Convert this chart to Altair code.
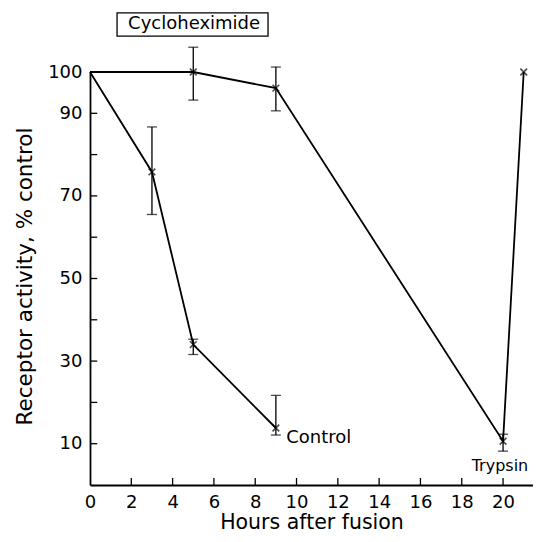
import altair as alt
import pandas as pd

# Control series
ctrl_x = [0, 3, 5, 9]
ctrl_y = [100, 75.8, 34, 13.8]
ctrl_lo = [None, 65.5, 31.6, 12.1]
ctrl_hi = [None, 86.7, 35.3, 21.7]

# Cycloheximide series
cyc_x = [0, 5, 9, 20, 21]
cyc_y = [100, 100, 96.1, 10.6, 100]
cyc_lo = [None, 93.2, 90.6, 8.2, None]
cyc_hi = [None, 106, 101.2, 12.3, None]

x_ticks = [2, 4, 6, 8, 10, 12, 14, 16, 18, 20]
y_ticks = [10, 20, 30, 40, 50, 60, 70, 80, 90, 100]

FONT = "DejaVu Sans"

rows = []
for i, (x, y, lo, hi) in enumerate(zip(ctrl_x, ctrl_y, ctrl_lo, ctrl_hi)):
    rows.append(dict(series="Control", order=i, x=x, y=y, lo=lo, hi=hi, marker=(i > 0)))
for i, (x, y, lo, hi) in enumerate(zip(cyc_x, cyc_y, cyc_lo, cyc_hi)):
    rows.append(dict(series="Cycloheximide", order=i, x=x, y=y, lo=lo, hi=hi, marker=(i > 0)))
df = pd.DataFrame(rows)
err = df.dropna(subset=["lo"])
pts = df[df["marker"]]

xs = alt.Scale(domain=[0, 21.45], nice=False, zero=False)
ys = alt.Scale(domain=[0, 100], nice=False)

base = alt.Chart(df)

lines = base.mark_line(color="black", strokeWidth=1.8).encode(
    x=alt.X("x:Q", scale=xs,
            axis=alt.Axis(title="Hours after fusion", values=[0] + x_ticks, format="d",
                          tickSize=0, labelPadding=8, labelFlush=False,
                          titleBaseline="alphabetic", titleY=43,
                          domainColor="black", domainWidth=1.8, grid=False,
                          labelFont=FONT, titleFont=FONT, labelFontSize=18,
                          titleFontSize=20.5, titleFontWeight="normal", labelColor="black",
                          titleColor="black")),
    y=alt.Y("y:Q", scale=ys,
            axis=alt.Axis(title="Receptor activity, % control", values=y_ticks,
                          labelExpr="(datum.value % 20 == 10 || datum.value == 100) ? datum.label : ''",
                          tickSize=0, labelPadding=8, labelFlush=False,
                          titleX=-65, titleY=204, titleBaseline="middle",
                          domainColor="black", domainWidth=1.8, grid=False,
                          labelFont=FONT, titleFont=FONT, labelFontSize=18,
                          titleFontSize=21.5, titleFontWeight="normal", labelColor="black",
                          titleColor="black")),
    detail="series:N",
    order="order:Q",
)

markers = alt.Chart(pts).mark_point(
    shape="M-1,-1L1,1M-1,1L1,-1", size=45, color="black", strokeWidth=1.6, filled=False
).encode(x=alt.X("x:Q", scale=xs), y=alt.Y("y:Q", scale=ys))

bars = alt.Chart(err).mark_rule(color="black", strokeWidth=1.3).encode(
    x=alt.X("x:Q", scale=xs), y=alt.Y("lo:Q", scale=ys), y2="hi:Q"
)
cap_lo = alt.Chart(err).mark_tick(color="black", orient="horizontal", size=10, thickness=1.3).encode(
    x=alt.X("x:Q", scale=xs), y=alt.Y("lo:Q", scale=ys)
)
cap_hi = alt.Chart(err).mark_tick(color="black", orient="horizontal", size=10, thickness=1.3).encode(
    x=alt.X("x:Q", scale=xs), y=alt.Y("hi:Q", scale=ys)
)

# inward axis ticks
ytk = alt.Chart(pd.DataFrame({"v": y_ticks})).mark_rule(color="black", strokeWidth=1.3).encode(
    y=alt.Y("v:Q", scale=ys), x=alt.datum(0, scale=xs), x2=alt.datum(0.35)
)
xtk = alt.Chart(pd.DataFrame({"v": x_ticks})).mark_rule(color="black", strokeWidth=1.3).encode(
    x=alt.X("v:Q", scale=xs), y=alt.datum(0, scale=ys), y2=alt.datum(1.7)
)

# annotations
box_df = pd.DataFrame({"x1": [1.31], "x2": [8.62], "y1": [108.7], "y2": [114.3]})
box = alt.Chart(box_df).mark_rect(fill="white", stroke="black", strokeWidth=1.3).encode(
    x=alt.X("x1:Q", scale=xs), x2="x2:Q", y=alt.Y("y1:Q", scale=ys), y2="y2:Q"
)
lab_df = pd.DataFrame({
    "text": ["Cycloheximide", "Control", "Trypsin"],
    "x": [5.04, 9.5, 19.85],
    "y": [111.6, 11.4, 4.6],
})
lab_c = alt.Chart(lab_df.iloc[[0]]).mark_text(
    font=FONT, fontSize=18, color="black", align="center", baseline="middle"
).encode(x=alt.X("x:Q", scale=xs), y=alt.Y("y:Q", scale=ys), text="text:N")
lab_t = alt.Chart(lab_df.iloc[[2]]).mark_text(
    font=FONT, fontSize=16, color="black", align="center", baseline="middle"
).encode(x=alt.X("x:Q", scale=xs), y=alt.Y("y:Q", scale=ys), text="text:N")
lab_l = alt.Chart(lab_df.iloc[[1]]).mark_text(
    font=FONT, fontSize=18, color="black", align="left", baseline="middle"
).encode(x=alt.X("x:Q", scale=xs), y=alt.Y("y:Q", scale=ys), text="text:N")

chart = alt.layer(lines, bars, cap_lo, cap_hi, markers, ytk, xtk, box, lab_c, lab_t, lab_l).properties(
    width=443, height=413,
    autosize=alt.AutoSizeParams(type="none"),
    padding={"left": 82, "top": 64, "right": 0, "bottom": 49},
).configure(background="white").configure_view(stroke=None).configure_axis(grid=False)

chart.save("out.html", embed_options={"renderer": "svg", "actions": False})
